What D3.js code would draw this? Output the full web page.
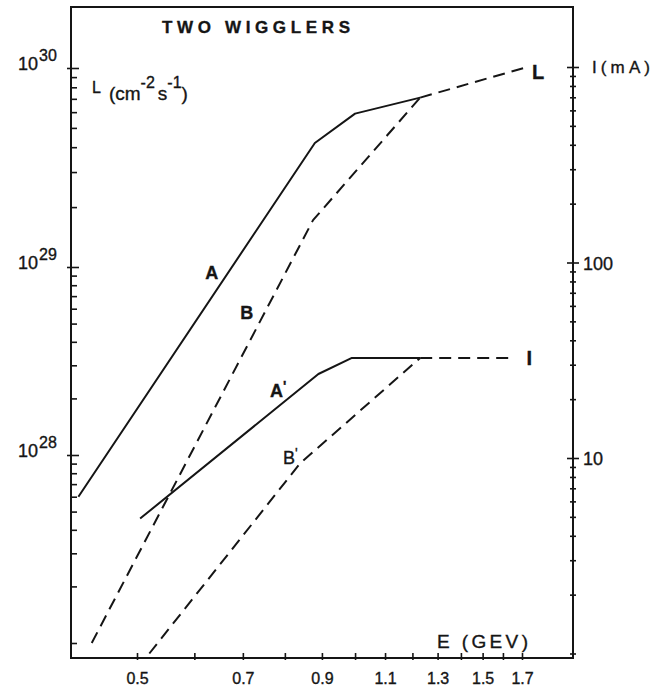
<!DOCTYPE html>
<html><head><meta charset="utf-8">
<script src="https://cdn.jsdelivr.net/npm/d3@7"></script>
<style>
body{margin:0;background:#fff}
svg{display:block}
text{font-family:"Liberation Sans",Arial,sans-serif;fill:#151515;stroke:#151515;stroke-width:0.35}
</style>
</head><body>
<svg id="chart" width="666" height="691"></svg>
<script>
// ---------- data ----------
const energyTicks = [0.5,0.6,0.7,0.8,0.9,1.0,1.1,1.2,1.3,1.4,1.5,1.6,1.7];
const energyTickLabels = ["0.5","0.7","0.9","1.1","1.3","1.5","1.7"];
const lumDecades = [1e28,1e29,1e30];
const lumDecadeExponents = ["28","29","30"];
const currentDecades = [10,100,1000];
const currentTickLabels = ["10","100",""];

// luminosity curves (left axis, cm^-2 s^-1)
const curveA_E = [0.415,0.88,1.0,1.23];
const curveA_L = [6.0e27,4.2e29,5.9e29,7.1e29];
const curveB_E = [0.433,0.875,1.23];
const curveB_L = [1.0e27,1.72e29,7.1e29];
const curveL_E = [1.23,1.71];
const curveL_L = [7.1e29,1.0e30];
// current curves (right axis, mA)
const curveA1_E = [0.505,0.89,0.99,1.23];
const curveA1_I = [4.9,26.9,32.5,32.5];
const curveB1_E = [0.52,0.84,1.23];
const curveB1_I = [1.0,9.4,32.5];
const curveI_E = [1.23,1.64];
const curveI_I = [32.5,32.5];

// curve labels in data coordinates
const lumLabels = [{t:"A",e:0.634,v:9.4e28},{t:"B",e:0.709,v:5.76e28},{t:"L",e:1.79,v:9.6e29}];
const curLabels = [{t:"A",p:true,e:0.783,v:22.3},{t:"B",p:true,e:0.814,v:10.1},{t:"I",e:1.74,v:32.5}];

// ---------- layout ----------
const frame = {left:71, right:573, top:7, bottom:658};
const svg = d3.select("#chart");

const x = d3.scaleLog().domain([0.5,1.7]).range([137,522]);
const yL = d3.scaleLog().domain([1e28,1e29,1e30]).range([455,267,68]);
const yI = d3.scaleLog().domain([10,1000]).range([458,67]);

const ink = "#151515";

// frame
svg.append("rect").attr("x",frame.left).attr("y",frame.top)
  .attr("width",frame.right-frame.left).attr("height",frame.bottom-frame.top)
  .attr("fill","none").attr("stroke",ink).attr("stroke-width",2);

// left axis minor ticks
const lumMinor = [];
[1e27,1e28,1e29,1e30].forEach(d=>{for(let k=1;k<=9;k++){const v=d*k;const py=yL(v);if(py>frame.top+2&&py<frame.bottom-2)lumMinor.push(v);}});
const leftAxis = d3.axisRight(yL).tickValues(lumMinor).tickSize(6).tickFormat("");
const gl = svg.append("g").attr("transform",`translate(${frame.left},0)`).call(leftAxis);
gl.select(".domain").remove();
gl.selectAll(".tick line").attr("stroke",ink).attr("stroke-width",1.6)
  .attr("x1",d=>lumDecades.includes(d)?-4:0).attr("x2",d=>lumDecades.includes(d)?8:6);

// left decade labels
lumDecades.forEach((d,i)=>{
  const t = svg.append("text").attr("x",frame.left-53).attr("y",yL(d)+2).attr("font-size",18);
  t.append("tspan").text("10");
  t.append("tspan").attr("dx",1).attr("dy",-9).attr("font-size",16).text(lumDecadeExponents[i]);
});

// right axis minor ticks
const curMinor = [];
[1,10,100,1000].forEach(d=>{for(let k=1;k<=9;k++){const v=d*k;const py=yI(v);if(py>frame.top+2&&py<frame.bottom-2)curMinor.push(v);}});
const rightAxis = d3.axisLeft(yI).tickValues(curMinor).tickSize(5).tickFormat("");
const gr = svg.append("g").attr("transform",`translate(${frame.right},0)`).call(rightAxis);
gr.select(".domain").remove();
gr.selectAll(".tick line").attr("stroke",ink).attr("stroke-width",1.6)
  .attr("x1",d=>currentDecades.includes(d)?6:3).attr("x2",d=>currentDecades.includes(d)?-6:-3);
currentDecades.forEach((d,i)=>{
  if(currentTickLabels[i]) svg.append("text").attr("x",frame.right+10).attr("y",yI(d)+7)
    .attr("font-size",18).text(currentTickLabels[i]);
});
svg.append("text").attr("x",frame.right+19).attr("y",yI(1000)+6).attr("font-size",17)
  .attr("textLength",58).attr("lengthAdjust","spacing").text("I(mA)");

// bottom axis
const bottomAxis = d3.axisBottom(x).tickValues(energyTicks).tickSize(-5).tickPadding(15)
  .tickFormat(d=>{const s=d3.format(".1f")(d);return energyTickLabels.includes(s)?s:"";});
const gb = svg.append("g").attr("transform",`translate(0,${frame.bottom})`).call(bottomAxis);
gb.select(".domain").remove();
gb.selectAll(".tick line").attr("stroke",ink).attr("stroke-width",1.6).attr("y2",-5).attr("y1",2);
gb.selectAll(".tick text").attr("font-size",16).attr("fill",ink)
  .attr("font-family","'Liberation Sans',Arial,sans-serif");

// titles
svg.append("text").attr("x",162).attr("y",33).attr("font-size",17).attr("font-weight","bold")
  .attr("textLength",188).attr("lengthAdjust","spacing").text("TWO WIGGLERS");
svg.append("text").attr("x",437).attr("y",648).attr("font-size",19)
  .attr("textLength",91).attr("lengthAdjust","spacing").text("E (GEV)");
const lt = svg.append("text").attr("x",92).attr("y",93).attr("font-size",16);
lt.append("tspan").text("L");
lt.append("tspan").attr("dx",8).attr("dy",7).attr("font-size",19).text("(cm");
lt.append("tspan").attr("dy",-12).attr("font-size",16).text("-2");
lt.append("tspan").attr("dx",3).attr("dy",12).attr("font-size",19).text("s");
lt.append("tspan").attr("dy",-12).attr("font-size",16).text("-1");
lt.append("tspan").attr("dy",12).attr("font-size",19).text(")");

// curves
const lineL = d3.line().x(d=>x(d[0])).y(d=>yL(d[1]));
const lineI = d3.line().x(d=>x(d[0])).y(d=>yI(d[1]));
const zip = (a,b)=>a.map((v,i)=>[v,b[i]]);
const dash = "12,7";
function draw(path, dashed){
  svg.append("path").attr("d",path).attr("fill","none").attr("stroke",ink)
    .attr("stroke-width",2).attr("stroke-linejoin","round")
    .attr("stroke-dasharray",dashed?dash:null);
}
draw(lineL(zip(curveA_E,curveA_L)),false);
draw(lineL(zip(curveB_E,curveB_L)),true);
draw(lineL(zip(curveL_E,curveL_L)),true);
draw(lineI(zip(curveA1_E,curveA1_I)),false);
draw(lineI(zip(curveB1_E,curveB1_I)),true);
draw(lineI(zip(curveI_E,curveI_I)),true);

// curve labels
lumLabels.forEach(l=>{
  svg.append("text").attr("x",x(l.e)).attr("y",yL(l.v)+7).attr("text-anchor","middle")
    .attr("font-size",l.t==="L"?20:18).attr("font-weight","bold").text(l.t);
});
curLabels.forEach(l=>{
  const t = svg.append("text").attr("x",x(l.e)).attr("y",yI(l.v)+7).attr("text-anchor","middle")
    .attr("font-size",l.t==="I"?20:18).attr("font-weight",l.t==="B"?"normal":"bold").text(l.t);
  if(l.p) t.append("tspan").attr("dy",-6).attr("font-size",14).text("'");
});
</script>
</body></html>
